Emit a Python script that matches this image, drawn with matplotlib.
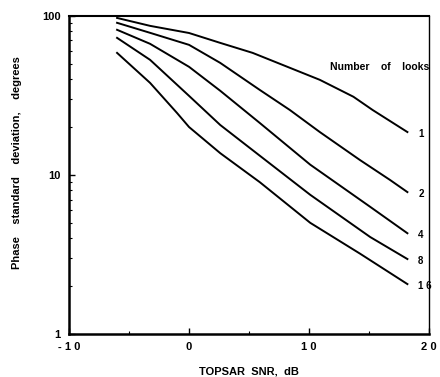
import matplotlib
matplotlib.use("Agg")
import matplotlib.pyplot as plt
from matplotlib.ticker import LogLocator, NullFormatter

plt.rcParams['font.family'] = ['Liberation Sans', 'DejaVu Sans']
plt.rcParams['font.weight'] = 'bold'

# phase std dev (degrees) vs TOPSAR SNR (dB), one curve per number of looks
snr_1 = [-6, -3.25, 0, 2.6, 5.3, 8.2, 10.9, 13.7, 15.3, 18.2]
phase_1 = [97, 86.5, 78, 67.6, 58.5, 47.8, 39.6, 31, 25.6, 18.6]

snr_2 = [-6, -3.25, 0, 2.6, 5.9, 8.4, 10.9, 14.25, 16.75, 18.2]
phase_2 = [90.4, 78.2, 65.7, 50.6, 34.2, 25.6, 18.6, 12.4, 9.3, 7.8]

snr_4 = [-6, -3.25, 0, 2.6, 5.9, 10.1, 15.1, 18.2]
phase_4 = [81.7, 66.7, 47.8, 33.8, 21.2, 11.6, 6.3, 4.3]

snr_8 = [-6, -3.25, 0, 2.6, 5.9, 10.1, 15.1, 18.2]
phase_8 = [72.7, 52.9, 31.4, 20.6, 13.2, 7.5, 4.07, 2.96]

snr_16 = [-6, -3.25, -1, 0, 2.6, 5.9, 10.1, 14.25, 18.2]
phase_16 = [58.5, 37.9, 24.5, 20, 13.7, 9.0, 5.0, 3.2, 2.06]

look_labels = ["1", "2", "4", "8", "1 6"]
x_ticks = [-10, 0, 10, 20]
x_tick_labels = ["- 1 0", "0", "1 0", "2 0"]
y_ticks = [1, 10, 100]
y_tick_labels = ["1", "10", "100"]

fig = plt.figure(figsize=(4.4, 3.77), dpi=100)
ax = fig.add_axes([0.157, 0.114, 0.818, 0.844])

series = [(snr_1, phase_1), (snr_2, phase_2), (snr_4, phase_4),
          (snr_8, phase_8), (snr_16, phase_16)]
for (x, y), lab in zip(series, look_labels):
    ax.plot(x, y, color="black", lw=1.4)
    ax.text(x[-1] + 0.9, y[-1] * 0.97, lab, fontsize=7, fontweight="bold",
            ha="left", va="center")

ax.text(1.0, 0.84, "Number    of    looks", transform=ax.transAxes,
        fontsize=7.5, fontweight="bold", ha="right", va="center")

ax.set_yscale("log")
ax.set_xlim(-10, 20)
ax.set_ylim(1, 100)
ax.set_xticks(x_ticks, x_tick_labels)
ax.set_xticks([-5, 5, 15], minor=True)
ax.set_yticks(y_ticks, y_tick_labels)
ax.yaxis.set_minor_locator(LogLocator(base=10, subs=range(2, 10)))
ax.yaxis.set_minor_formatter(NullFormatter())

ax.tick_params(axis="both", which="major", direction="in", length=4,
               width=1, labelsize=8, pad=6)
ax.tick_params(axis="both", which="minor", direction="in", length=2.5,
               width=0.8)
for lab in ax.get_xticklabels() + ax.get_yticklabels():
    lab.set_fontweight("bold")

ax.spines["left"].set_linewidth(1.8)
ax.spines["bottom"].set_linewidth(1.8)
ax.spines["top"].set_linewidth(1.5)
ax.spines["right"].set_linewidth(1.0)

ax.set_xlabel("TOPSAR  SNR,  dB", fontsize=8, fontweight="bold", labelpad=10)
ax.set_ylabel("Phase    standard    deviation,    degrees", fontsize=8,
              fontweight="bold")
ax.yaxis.set_label_coords(-0.13, 0.54)

fig.savefig("out.png", dpi=100)
